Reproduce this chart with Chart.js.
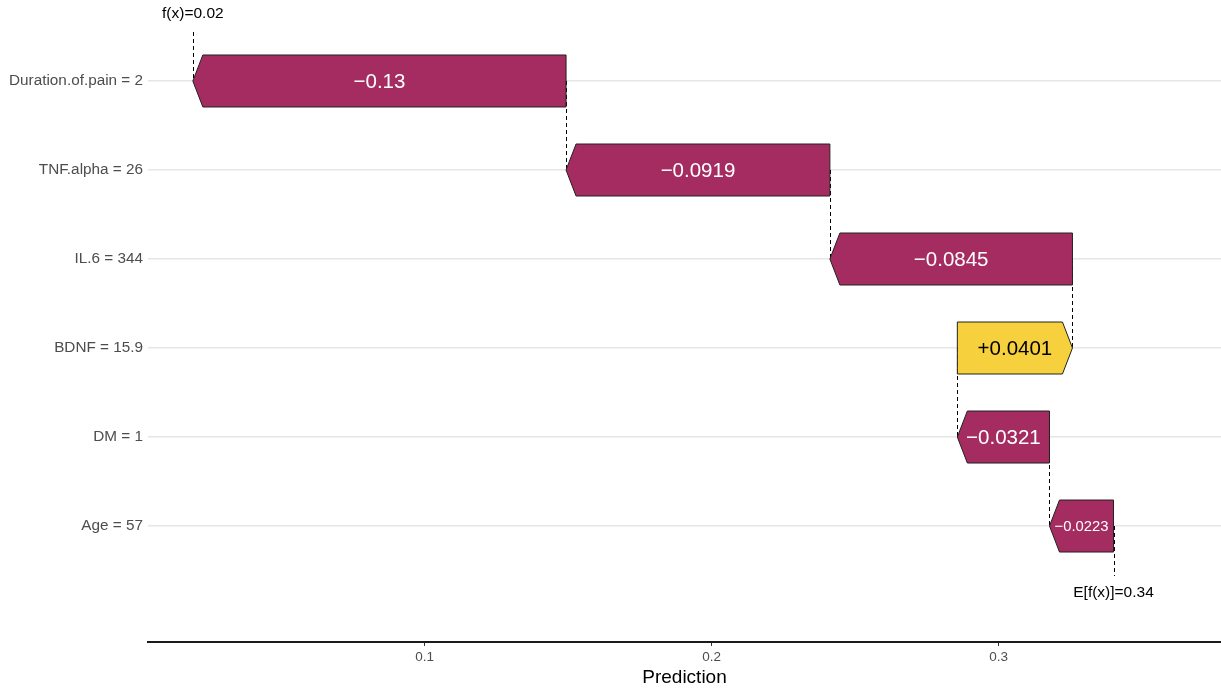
<!DOCTYPE html>
<html>
<head>
<meta charset="utf-8">
<script src="https://cdn.jsdelivr.net/npm/chart.js@4/dist/chart.umd.min.js"></script>
<style>
  html, body { margin: 0; padding: 0; background: #fff; }
  #wrap { position: relative; width: 1221px; height: 692px; }
</style>
</head>
<body>
<div id="wrap"><canvas id="waterfall"></canvas></div>
<script>
const features = ['Duration.of.pain = 2', 'TNF.alpha = 26', 'IL.6 = 344', 'BDNF = 15.9', 'DM = 1', 'Age = 57'];
const shapValues = [-0.13, -0.0919, -0.0845, 0.0401, -0.0321, -0.0223];
const baseValue = 0.34;
const xTicks = [0.1, 0.2, 0.3];

const NEG = '#a52c60';
const POS = '#f7d13d';
const FONT = "'Liberation Sans', Arial, sans-serif";

// walk up from E[f(x)] (bottom row) to f(x) (top row)
const spans = new Array(features.length);
let acc = baseValue;
for (let i = features.length - 1; i >= 0; i--) {
  spans[i] = [acc, acc + shapValues[i]];
  acc += shapValues[i];
}
const prediction = acc;

function fmtShap(v) {
  return (v < 0 ? '\u2212' : '+') + String(Math.abs(v));
}

const arrowPlugin = {
  id: 'arrows',
  beforeDatasetsDraw(chart) {
    const { ctx, scales: { x, y } } = chart;
    const last = features.length - 1;
    ctx.save();
    ctx.setLineDash([4, 3]);
    ctx.strokeStyle = '#000';
    ctx.lineWidth = 1;
    const vline = (xv, y0, y1) => {
      const px = Math.round(x.getPixelForValue(xv)) + 0.5;
      ctx.beginPath();
      ctx.moveTo(px, y0);
      ctx.lineTo(px, y1);
      ctx.stroke();
    };
    vline(prediction, y.getPixelForValue(0) - 49, y.getPixelForValue(0));
    for (let i = 0; i < last; i++) {
      vline(spans[i][0], y.getPixelForValue(i), y.getPixelForValue(i + 1));
    }
    vline(baseValue, y.getPixelForValue(last), y.getPixelForValue(last) + 50);
    ctx.restore();
  },
  afterDatasetsDraw(chart) {
    const { ctx, scales: { x, y } } = chart;
    const meta = chart.getDatasetMeta(0);
    ctx.save();
    meta.data.forEach((bar, i) => {
      const left = Math.min(bar.x, bar.base);
      const right = Math.max(bar.x, bar.base);
      const top = bar.y - bar.height / 2;
      const bottom = bar.y + bar.height / 2;
      const head = Math.min(10, (right - left) / 2);
      ctx.beginPath();
      if (shapValues[i] < 0) {
        ctx.moveTo(left, bar.y);
        ctx.lineTo(left + head, top);
        ctx.lineTo(right, top);
        ctx.lineTo(right, bottom);
        ctx.lineTo(left + head, bottom);
      } else {
        ctx.moveTo(left, top);
        ctx.lineTo(right - head, top);
        ctx.lineTo(right, bar.y);
        ctx.lineTo(right - head, bottom);
        ctx.lineTo(left, bottom);
      }
      ctx.closePath();
      ctx.fillStyle = shapValues[i] < 0 ? NEG : POS;
      ctx.fill();
      ctx.strokeStyle = '#222';
      ctx.lineWidth = 1;
      ctx.stroke();

      // value label, shrunk when it does not fit the arrow
      const txt = fmtShap(shapValues[i]);
      let size = 20.5;
      ctx.font = size + 'px ' + FONT;
      const w = ctx.measureText(txt).width;
      if (w > right - left - 10) size = size * (right - left - 10) / w;
      ctx.font = size + 'px ' + FONT;
      ctx.fillStyle = shapValues[i] < 0 ? '#fff' : '#000';
      ctx.textAlign = 'center';
      ctx.textBaseline = 'middle';
      ctx.fillText(txt, (left + right) / 2, bar.y + 1);
    });

    ctx.font = '15.5px ' + FONT;
    ctx.fillStyle = '#000';
    ctx.textAlign = 'center';
    ctx.textBaseline = 'middle';
    ctx.fillText('f(x)=' + prediction.toFixed(2), x.getPixelForValue(prediction), y.getPixelForValue(0) - 67);
    ctx.fillText('E[f(x)]=' + baseValue.toFixed(2), x.getPixelForValue(baseValue),
      y.getPixelForValue(features.length - 1) + 67);
    ctx.restore();
  }
};

new Chart(document.getElementById('waterfall'), {
  type: 'bar',
  data: {
    datasets: [{
      data: features.map((f, i) => ({ y: i, x: spans[i] })),
      backgroundColor: 'rgba(0,0,0,0)',
      borderWidth: 0,
      barThickness: 52
    }]
  },
  options: {
    indexAxis: 'y',
    responsive: true,
    maintainAspectRatio: false,
    animation: false,
    layout: { padding: 0 },
    plugins: {
      legend: { display: false },
      tooltip: { enabled: false }
    },
    scales: {
      x: {
        type: 'linear',
        position: 'bottom',
        min: 0.00368,
        max: 0.37744,
        afterBuildTicks: scale => { scale.ticks = xTicks.map(v => ({ value: v })); },
        afterFit: scale => { scale.height = 50; },
        grid: { drawOnChartArea: false, drawTicks: true, tickLength: 4, tickColor: '#333', tickWidth: 1 },
        border: { display: true, color: '#1a1a1a', width: 2 },
        ticks: {
          color: '#4d4d4d',
          font: { size: 13.5, family: FONT },
          padding: 3,
          maxRotation: 0,
          callback: v => String(v)
        },
        title: {
          display: true,
          text: 'Prediction',
          color: '#000',
          font: { size: 19, family: FONT },
          padding: { top: 0, bottom: 3 }
        }
      },
      y: {
        type: 'linear',
        reverse: true,
        offset: false,
        min: -0.91,
        max: 6.303,
        afterBuildTicks: scale => { scale.ticks = features.map((f, i) => ({ value: i })); },
        afterFit: scale => {
          scale.width = 148;
          scale.paddingTop = 0;
          scale.paddingBottom = 0;
        },
        grid: { color: '#e6e6e6', lineWidth: 1.5, drawTicks: false, offset: false },
        border: { display: false },
        ticks: {
          color: '#4d4d4d',
          font: { size: 15.3, family: FONT },
          padding: 5,
          autoSkip: false,
          callback: v => features[v]
        }
      }
    }
  },
  plugins: [arrowPlugin]
});
</script>
</body>
</html>
